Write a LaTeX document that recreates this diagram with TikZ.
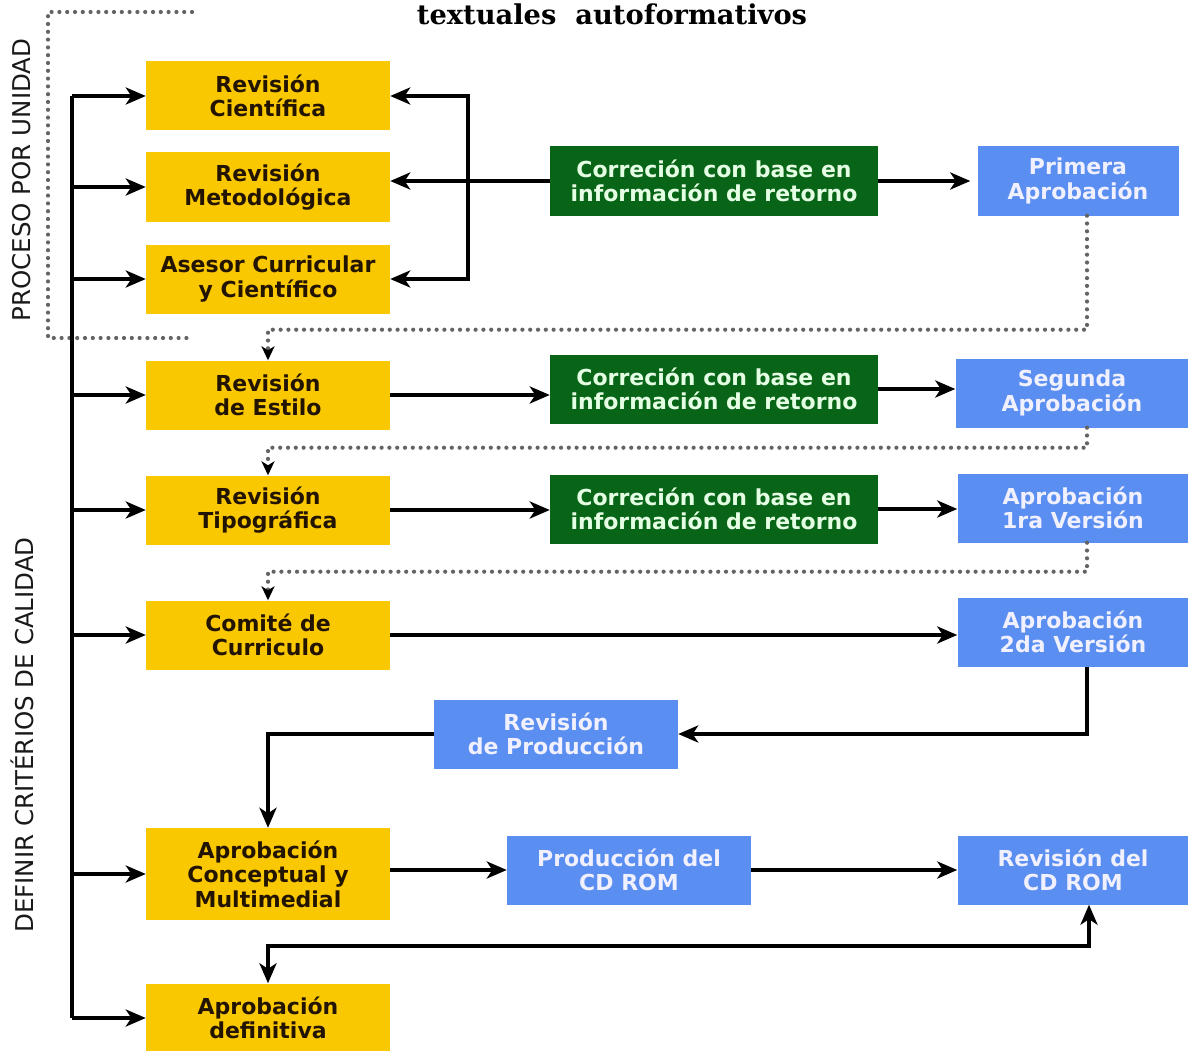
\documentclass[tikz,border=0pt]{standalone}
\usepackage{fontspec}
\setmainfont{DejaVu Sans}
\newfontfamily\titlefont{DejaVu Serif}
\usetikzlibrary{arrows.meta}
\usetikzlibrary{calc}
\tikzset{>={Stealth[length=20pt,width=17pt,inset=5.5pt]}}
\definecolor{boxyellow}{RGB}{250,200,0}
\definecolor{boxgreen}{RGB}{8,100,22}
\definecolor{boxblue}{RGB}{90,142,240}
\definecolor{dotgray}{RGB}{100,100,100}
\definecolor{textdark}{RGB}{35,20,0}
\tikzstyle{flowbox}=[inner sep=0pt,align=center,minimum height=69pt,font=\fontsize{22}{24.5}\selectfont\bfseries]
\tikzstyle{yellowbox}=[flowbox,fill=boxyellow,text=textdark,minimum width=244pt]
\tikzstyle{greenbox}=[flowbox,fill=boxgreen,text=white!90!green,minimum width=328pt]
\tikzstyle{bluebox}=[flowbox,fill=boxblue,text=white!94!blue,minimum width=231pt]
\tikzstyle{flowline}=[draw=black,line width=4.4pt]
\tikzstyle{dotline}=[draw=dotgray,line width=4.2pt,line cap=round,dash pattern=on 0pt off 7.8pt]
\tikzstyle{dotarrow}=[dotline,-{Stealth[black,length=14pt,width=13pt,inset=4pt]}]
\tikzstyle{sidelabel}=[rotate=90,font=\fontsize{24.5}{24.5}\selectfont,text=black!90]

\begin{document}
\begin{tikzpicture}[x=1pt,y=-1pt]
  \useasboundingbox (0,0) rectangle (1188,1051);
  \node[font=\titlefont\bfseries\fontsize{27.3}{27.3}\selectfont] (title) at (612,14) {textuales\ \ autoformativos};

  \node[sidelabel] (lblunidad) at (22,180) {PROCESO POR UNIDAD};
  \node[sidelabel] (lblcalidad) at (22,735) {DEFINIR CRITÉRIOS DE CALIDAD};
  \draw[dotline] (192,12) -- (48,12) -- (48,338) -- (192,338);

  % yellow column
  \node[yellowbox] (rcient) at (268,96) {Revisión\\Científica};
  \node[yellowbox] (rmetod) at (268,187) {Revisión\\Metodológica};
  \node[yellowbox] (asesor) at (268,279) {Asesor Curricular\\y Científico};
  \node[yellowbox] (restilo) at (268,395) {Revisión\\de Estilo};
  \node[yellowbox] (rtipo) at (268,510) {Revisión\\Tipográfica};
  \node[yellowbox] (comite) at (268,635) {Comité de\\Curriculo};
  \node[yellowbox,minimum height=92pt] (aconcep) at (268,874) {Aprobación\\Conceptual y\\Multimedial};
  \node[yellowbox] (adefin) at (268,1018) {Aprobación\\definitiva};

  % corrections
  \node[greenbox] (corr1) at (714,181) {Correción con base en\\información de retorno};
  \node[greenbox] (corr2) at (714,389) {Correción con base en\\información de retorno};
  \node[greenbox] (corr3) at (714,509) {Correción con base en\\información de retorno};

  % approvals
  \node[bluebox,minimum width=201pt] (aprim) at (1078,181) {Primera\\Aprobación};
  \node[bluebox,minimum width=233pt] (aseg) at (1072,393) {Segunda\\Aprobación};
  \node[bluebox] (aver1) at (1073,508) {Aprobación\\1ra Versión};
  \node[bluebox] (aver2) at (1073,632) {Aprobación\\2da Versión};
  \node[bluebox,minimum width=244pt] (rprod) at (556,734) {Revisión\\de Producción};
  \node[bluebox,minimum width=244pt] (pcd) at (629,870) {Producción del\\CD ROM};
  \node[bluebox] (rcd) at (1073,870) {Revisión del\\CD ROM};

  % left bus
  \coordinate (bus) at (72,0);
  \draw[flowline] (rcient.west -| bus) -- (adefin.west -| bus);
  \foreach \b in {rcient,rmetod,asesor,restilo,rtipo,comite,aconcep,adefin}
    \draw[flowline,->] (\b.west -| bus) -- (\b.west);

  % feedback bracket
  \coordinate (brk) at (468,0);
  \draw[flowline,->] (corr1.west) -- (corr1.west -| rmetod.east);
  \draw[flowline,->] (corr1.west -| brk) |- (rcient.east);
  \draw[flowline,->] (corr1.west -| brk) |- (asesor.east);
  \draw[flowline,->,shorten >=7pt] (corr1.east) -- (corr1.east -| aprim.west);

  \draw[flowline,->] (restilo.east) -- (restilo.east -| corr2.west);
  \draw[flowline,->] (corr2.east) -- (corr2.east -| aseg.west);
  \draw[flowline,->] (rtipo.east) -- (rtipo.east -| corr3.west);
  \draw[flowline,->] (corr3.east) -- (corr3.east -| aver1.west);
  \draw[flowline,->] (comite.east) -- (comite.east -| aver2.west);

  % dotted returns
  \draw[dotarrow] ([xshift=9pt]aprim.south) -- ++(0,114) -| (restilo.north);
  \draw[dotarrow] ([xshift=15pt]aseg.south) -- ++(0,20) -| (rtipo.north);
  \draw[dotarrow] ([xshift=14pt]aver1.south) -- ++(0,29) -| (comite.north);

  % production
  \draw[flowline,->] ([xshift=14pt]aver2.south) |- (rprod.east);
  \draw[flowline,->] (rprod.west) -| (aconcep.north);
  \draw[flowline,->] (pcd.west -| aconcep.east) -- (pcd.west);
  \draw[flowline,->] (pcd.east) -- (rcd.west);
  \coordinate (low) at (0,946);
  \draw[flowline,<->] (adefin.north) -- (adefin.north |- low) -| ([xshift=16pt]rcd.south);
\end{tikzpicture}
\end{document}
